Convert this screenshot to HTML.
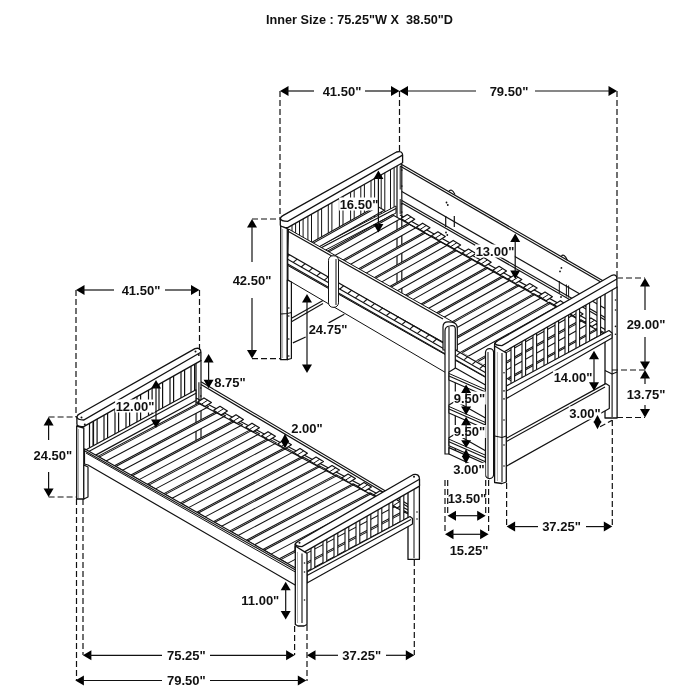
<!DOCTYPE html>
<html><head><meta charset="utf-8"><style>
html,body{margin:0;padding:0;background:#fff;width:700px;height:700px;overflow:hidden}
svg{display:block;filter:grayscale(100%)}
text{font-family:"Liberation Sans",sans-serif;font-weight:bold;fill:#111}
</style></head><body>
<svg width="700" height="700" viewBox="0 0 700 700">
<rect width="700" height="700" fill="#fff"/>
<line x1="201.0" y1="381.8" x2="410.0" y2="505.5" stroke="#111" stroke-width="1.2"/>
<line x1="201.0" y1="384.4" x2="410.0" y2="508.1" stroke="#111" stroke-width="1.2"/>
<line x1="89.5" y1="423.3" x2="89.5" y2="447.8" stroke="#111" stroke-width="1.2"/>
<line x1="93.1" y1="421.3" x2="93.1" y2="445.8" stroke="#111" stroke-width="1.2"/>
<line x1="93.5" y1="421.1" x2="93.5" y2="445.6" stroke="#111" stroke-width="1.2"/>
<line x1="97.1" y1="419.1" x2="97.1" y2="443.7" stroke="#111" stroke-width="1.2"/>
<line x1="104.0" y1="415.2" x2="104.0" y2="439.9" stroke="#111" stroke-width="1.2"/>
<line x1="107.6" y1="413.1" x2="107.6" y2="437.9" stroke="#111" stroke-width="1.2"/>
<line x1="115.0" y1="409.0" x2="115.0" y2="433.9" stroke="#111" stroke-width="1.2"/>
<line x1="118.6" y1="406.9" x2="118.6" y2="431.9" stroke="#111" stroke-width="1.2"/>
<line x1="126.0" y1="402.8" x2="126.0" y2="427.9" stroke="#111" stroke-width="1.2"/>
<line x1="129.6" y1="400.8" x2="129.6" y2="426.0" stroke="#111" stroke-width="1.2"/>
<line x1="137.0" y1="396.6" x2="137.0" y2="421.9" stroke="#111" stroke-width="1.2"/>
<line x1="140.6" y1="394.6" x2="140.6" y2="420.0" stroke="#111" stroke-width="1.2"/>
<line x1="148.5" y1="390.1" x2="148.5" y2="415.7" stroke="#111" stroke-width="1.2"/>
<line x1="152.1" y1="388.1" x2="152.1" y2="413.7" stroke="#111" stroke-width="1.2"/>
<line x1="159.0" y1="384.2" x2="159.0" y2="409.9" stroke="#111" stroke-width="1.2"/>
<line x1="162.6" y1="382.2" x2="162.6" y2="408.0" stroke="#111" stroke-width="1.2"/>
<line x1="170.0" y1="378.0" x2="170.0" y2="404.0" stroke="#111" stroke-width="1.2"/>
<line x1="173.6" y1="376.0" x2="173.6" y2="402.0" stroke="#111" stroke-width="1.2"/>
<line x1="181.0" y1="371.8" x2="181.0" y2="398.0" stroke="#111" stroke-width="1.2"/>
<line x1="184.6" y1="369.8" x2="184.6" y2="396.0" stroke="#111" stroke-width="1.2"/>
<line x1="191.0" y1="366.2" x2="191.0" y2="392.5" stroke="#111" stroke-width="1.2"/>
<line x1="194.6" y1="364.1" x2="194.6" y2="390.6" stroke="#111" stroke-width="1.2"/>
<line x1="196.0" y1="360.0" x2="196.0" y2="440.0" stroke="#111" stroke-width="1.2"/>
<line x1="201.0" y1="360.0" x2="201.0" y2="440.0" stroke="#111" stroke-width="1.2"/>
<path d="M76.9,416.9 Q77.4,414.9 79.9,413.7 L195.0,348.6 Q200.9,347.1 200.9,352.3 L200.9,360.6 L83.7,426.6 Q76.9,427.1 76.9,424.1 Z" fill="#fff" stroke="#111" stroke-width="1.3" stroke-linejoin="round"/>
<path d="M76.9,417.0 Q77.4,420.0 83.7,420.0 L200.9,352.3" fill="none" stroke="#111" stroke-width="1.3"/>
<circle cx="81.5" cy="417.5" r="1.0" fill="#111"/>
<circle cx="195.5" cy="351.5" r="1.0" fill="#111"/>
<circle cx="84.8" cy="424.5" r="1.0" fill="#111"/>
<circle cx="198.8" cy="355.0" r="1.0" fill="#111"/>
<polygon points="97.9,456.4 200.1,402.2 208.5,406.7 106.1,461.0" fill="#fff" stroke="#111" stroke-width="1.05" stroke-linejoin="round"/>
<line x1="99.3" y1="457.1" x2="201.5" y2="402.9" stroke="#111" stroke-width="1.05"/>
<polygon points="114.4,465.7 217.1,411.2 225.5,415.7 122.6,470.3" fill="#fff" stroke="#111" stroke-width="1.05" stroke-linejoin="round"/>
<line x1="115.8" y1="466.5" x2="218.5" y2="412.0" stroke="#111" stroke-width="1.05"/>
<polygon points="130.9,475.0 234.1,420.3 242.5,424.8 139.1,479.6" fill="#fff" stroke="#111" stroke-width="1.05" stroke-linejoin="round"/>
<line x1="132.3" y1="475.8" x2="235.5" y2="421.0" stroke="#111" stroke-width="1.05"/>
<polygon points="147.4,484.3 251.1,429.4 259.5,433.8 155.6,488.9" fill="#fff" stroke="#111" stroke-width="1.05" stroke-linejoin="round"/>
<line x1="148.8" y1="485.1" x2="252.5" y2="430.1" stroke="#111" stroke-width="1.05"/>
<polygon points="163.9,493.6 268.1,438.4 276.5,442.9 172.1,498.2" fill="#fff" stroke="#111" stroke-width="1.05" stroke-linejoin="round"/>
<line x1="165.3" y1="494.4" x2="269.5" y2="439.2" stroke="#111" stroke-width="1.05"/>
<polygon points="180.4,502.9 285.1,447.5 293.5,451.9 188.6,507.6" fill="#fff" stroke="#111" stroke-width="1.05" stroke-linejoin="round"/>
<line x1="181.8" y1="503.7" x2="286.5" y2="448.2" stroke="#111" stroke-width="1.05"/>
<polygon points="196.9,512.3 302.1,456.5 310.5,461.0 205.1,516.9" fill="#fff" stroke="#111" stroke-width="1.05" stroke-linejoin="round"/>
<line x1="198.3" y1="513.0" x2="303.5" y2="457.3" stroke="#111" stroke-width="1.05"/>
<polygon points="213.4,521.6 319.1,465.6 327.5,470.0 221.6,526.2" fill="#fff" stroke="#111" stroke-width="1.05" stroke-linejoin="round"/>
<line x1="214.8" y1="522.3" x2="320.5" y2="466.3" stroke="#111" stroke-width="1.05"/>
<polygon points="229.9,530.9 336.1,474.6 344.5,479.1 238.1,535.5" fill="#fff" stroke="#111" stroke-width="1.05" stroke-linejoin="round"/>
<line x1="231.3" y1="531.7" x2="337.5" y2="475.4" stroke="#111" stroke-width="1.05"/>
<polygon points="246.4,540.2 353.1,483.7 361.5,488.2 254.6,544.8" fill="#fff" stroke="#111" stroke-width="1.05" stroke-linejoin="round"/>
<line x1="247.8" y1="541.0" x2="354.5" y2="484.4" stroke="#111" stroke-width="1.05"/>
<polygon points="262.9,549.5 370.1,492.7 378.5,497.2 271.1,554.1" fill="#fff" stroke="#111" stroke-width="1.05" stroke-linejoin="round"/>
<line x1="264.3" y1="550.3" x2="371.5" y2="493.5" stroke="#111" stroke-width="1.05"/>
<polygon points="279.4,558.8 387.0,501.8 395.5,506.3 287.6,563.4" fill="#fff" stroke="#111" stroke-width="1.05" stroke-linejoin="round"/>
<line x1="280.8" y1="559.6" x2="388.5" y2="502.5" stroke="#111" stroke-width="1.05"/>
<polygon points="295.9,568.1 404.0,510.8 412.5,515.3 304.1,572.8" fill="#fff" stroke="#111" stroke-width="1.05" stroke-linejoin="round"/>
<line x1="297.3" y1="568.9" x2="405.5" y2="511.6" stroke="#111" stroke-width="1.05"/>
<polygon points="86.0,449.7 196.0,389.8 196.0,400.5 86.0,460.4" fill="#fff" stroke="#111" stroke-width="1.2" stroke-linejoin="round"/>
<line x1="86.0" y1="453.1" x2="196.0" y2="393.2" stroke="#111" stroke-width="1.1"/>
<line x1="196.0" y1="398.0" x2="410.0" y2="511.0" stroke="#111" stroke-width="1.2"/>
<line x1="196.0" y1="402.0" x2="410.0" y2="515.0" stroke="#111" stroke-width="1.2"/>
<polygon points="197.7,401.9 204.0,397.9 211.4,402.5 205.1,406.5" fill="#fff" stroke="#111" stroke-width="1.2" stroke-linejoin="round"/>
<line x1="201.4" y1="404.2" x2="207.7" y2="400.2" stroke="#111" stroke-width="1.0"/>
<polygon points="213.7,410.3 220.0,406.3 227.4,410.9 221.1,414.9" fill="#fff" stroke="#111" stroke-width="1.2" stroke-linejoin="round"/>
<line x1="217.4" y1="412.6" x2="223.7" y2="408.6" stroke="#111" stroke-width="1.0"/>
<polygon points="229.7,418.8 236.0,414.8 243.4,419.4 237.1,423.4" fill="#fff" stroke="#111" stroke-width="1.2" stroke-linejoin="round"/>
<line x1="233.4" y1="421.1" x2="239.7" y2="417.1" stroke="#111" stroke-width="1.0"/>
<polygon points="245.7,427.2 252.0,423.2 259.4,427.8 253.1,431.8" fill="#fff" stroke="#111" stroke-width="1.2" stroke-linejoin="round"/>
<line x1="249.4" y1="429.5" x2="255.7" y2="425.5" stroke="#111" stroke-width="1.0"/>
<polygon points="261.7,435.7 268.0,431.7 275.4,436.3 269.1,440.3" fill="#fff" stroke="#111" stroke-width="1.2" stroke-linejoin="round"/>
<line x1="265.4" y1="438.0" x2="271.7" y2="434.0" stroke="#111" stroke-width="1.0"/>
<polygon points="277.7,444.1 284.0,440.1 291.4,444.7 285.1,448.7" fill="#fff" stroke="#111" stroke-width="1.2" stroke-linejoin="round"/>
<line x1="281.4" y1="446.4" x2="287.7" y2="442.4" stroke="#111" stroke-width="1.0"/>
<polygon points="293.7,452.6 300.0,448.6 307.4,453.2 301.1,457.2" fill="#fff" stroke="#111" stroke-width="1.2" stroke-linejoin="round"/>
<line x1="297.4" y1="454.9" x2="303.7" y2="450.9" stroke="#111" stroke-width="1.0"/>
<polygon points="309.7,461.0 316.0,457.0 323.4,461.6 317.1,465.6" fill="#fff" stroke="#111" stroke-width="1.2" stroke-linejoin="round"/>
<line x1="313.4" y1="463.3" x2="319.7" y2="459.3" stroke="#111" stroke-width="1.0"/>
<polygon points="325.7,469.5 332.0,465.5 339.4,470.1 333.1,474.1" fill="#fff" stroke="#111" stroke-width="1.2" stroke-linejoin="round"/>
<line x1="329.4" y1="471.8" x2="335.7" y2="467.8" stroke="#111" stroke-width="1.0"/>
<polygon points="341.7,477.9 348.0,473.9 355.4,478.5 349.1,482.5" fill="#fff" stroke="#111" stroke-width="1.2" stroke-linejoin="round"/>
<line x1="345.4" y1="480.2" x2="351.7" y2="476.2" stroke="#111" stroke-width="1.0"/>
<polygon points="357.7,486.4 364.0,482.4 371.4,487.0 365.1,491.0" fill="#fff" stroke="#111" stroke-width="1.2" stroke-linejoin="round"/>
<line x1="361.4" y1="488.7" x2="367.7" y2="484.7" stroke="#111" stroke-width="1.0"/>
<polygon points="373.7,494.8 380.0,490.8 387.4,495.4 381.1,499.4" fill="#fff" stroke="#111" stroke-width="1.2" stroke-linejoin="round"/>
<line x1="377.4" y1="497.1" x2="383.7" y2="493.1" stroke="#111" stroke-width="1.0"/>
<polygon points="389.7,503.3 396.0,499.3 403.4,503.9 397.1,507.9" fill="#fff" stroke="#111" stroke-width="1.2" stroke-linejoin="round"/>
<line x1="393.4" y1="505.6" x2="399.7" y2="501.6" stroke="#111" stroke-width="1.0"/>
<line x1="198.9" y1="382.3" x2="198.9" y2="401.5" stroke="#111" stroke-width="1.1"/>
<circle cx="200.8" cy="388.0" r="0.8" fill="#111"/>
<circle cx="200.8" cy="396.0" r="0.8" fill="#111"/>
<polygon points="84.5,448.8 296.0,568.2 296.0,585.5 88.0,465.0 84.5,464.0" fill="#fff" stroke="#111" stroke-width="1.2" stroke-linejoin="round"/>
<line x1="84.5" y1="450.8" x2="296.0" y2="570.2" stroke="#111" stroke-width="1.1"/>
<line x1="86.0" y1="453.0" x2="296.0" y2="572.4" stroke="#111" stroke-width="1.0"/>
<polygon points="76.7,426.0 76.7,499.0 83.8,499.0 83.8,428.0" fill="#fff" stroke="#111" stroke-width="1.3" stroke-linejoin="round"/>
<polygon points="83.8,465.0 88.0,467.0 88.0,497.0 83.8,499.0" fill="#fff" stroke="#111" stroke-width="1.2" stroke-linejoin="round"/>
<line x1="78.5" y1="429.0" x2="78.5" y2="498.0" stroke="#888" stroke-width="0.7"/>
<polygon points="408.0,484.0 408.0,559.4 419.4,559.4 419.4,484.0" fill="#fff" stroke="#111" stroke-width="1.3" stroke-linejoin="round"/>
<line x1="414.0" y1="487.0" x2="414.0" y2="558.0" stroke="#111" stroke-width="1.0"/>
<circle cx="417.0" cy="512.0" r="0.8" fill="#111"/>
<circle cx="417.0" cy="519.0" r="0.8" fill="#111"/>
<rect x="311" y="546.2" width="3.8" height="23.7" fill="#fff" stroke="#111" stroke-width="1.1"/>
<rect x="323" y="539.3" width="3.8" height="24.1" fill="#fff" stroke="#111" stroke-width="1.1"/>
<rect x="334" y="533.0" width="3.8" height="24.5" fill="#fff" stroke="#111" stroke-width="1.1"/>
<rect x="345" y="526.7" width="3.8" height="24.8" fill="#fff" stroke="#111" stroke-width="1.1"/>
<rect x="356" y="520.4" width="3.8" height="25.2" fill="#fff" stroke="#111" stroke-width="1.1"/>
<rect x="367" y="514.1" width="3.8" height="25.6" fill="#fff" stroke="#111" stroke-width="1.1"/>
<rect x="378" y="507.8" width="3.8" height="26.0" fill="#fff" stroke="#111" stroke-width="1.1"/>
<rect x="389" y="501.5" width="3.8" height="26.3" fill="#fff" stroke="#111" stroke-width="1.1"/>
<rect x="400" y="495.2" width="3.8" height="26.7" fill="#fff" stroke="#111" stroke-width="1.1"/>
<polygon points="307.0,572.0 410.0,516.5 412.5,518.5 412.5,524.0 410.0,525.5 307.0,583.0" fill="#fff" stroke="#111" stroke-width="1.2" stroke-linejoin="round"/>
<line x1="307.0" y1="575.5" x2="411.0" y2="519.5" stroke="#111" stroke-width="1.1"/>
<path d="M295.1,544.5 Q295.6,542.5 298.1,541.3 L413.0,474.7 Q419.5,473.2 419.5,479.3 L419.5,486.1 L302.0,553.4 Q295.1,553.9 295.1,550.9 Z" fill="#fff" stroke="#111" stroke-width="1.3" stroke-linejoin="round"/>
<path d="M295.1,543.6 Q295.6,546.6 302.0,546.6 L419.5,479.3" fill="none" stroke="#111" stroke-width="1.3"/>
<circle cx="299.5" cy="542.8" r="1.0" fill="#111"/>
<circle cx="414.0" cy="476.8" r="1.0" fill="#111"/>
<polygon points="295.3,546.0 295.3,624.5 298.0,626.0 304.0,626.0 307.0,624.5 307.0,553.4" fill="#fff" stroke="#111" stroke-width="1.3" stroke-linejoin="round"/>
<line x1="302.0" y1="553.4" x2="302.0" y2="623.0" stroke="#111" stroke-width="1.1"/>
<line x1="297.5" y1="552.0" x2="297.5" y2="623.0" stroke="#888" stroke-width="0.7"/>
<circle cx="304.5" cy="563.0" r="0.8" fill="#111"/>
<circle cx="304.5" cy="572.0" r="0.8" fill="#111"/>
<circle cx="304.5" cy="600.0" r="0.8" fill="#111"/>
<line x1="400.0" y1="163.6" x2="612.0" y2="285.9" stroke="#111" stroke-width="1.2"/>
<line x1="400.0" y1="166.1" x2="612.0" y2="288.4" stroke="#111" stroke-width="1.2"/>
<path d="M448.5,191.8 Q451.5,187.5 455,194.5" fill="none" stroke="#111" stroke-width="1.1"/>
<path d="M561,256.5 Q564,252.5 567.5,260.5" fill="none" stroke="#111" stroke-width="1.1"/>
<circle cx="446.5" cy="202.5" r="0.9" fill="#111"/>
<circle cx="447.8" cy="205.0" r="0.9" fill="#111"/>
<circle cx="561.4" cy="267.9" r="0.9" fill="#111"/>
<circle cx="560.0" cy="271.4" r="0.9" fill="#111"/>
<circle cx="561.0" cy="297.0" r="0.9" fill="#111"/>
<circle cx="560.7" cy="301.4" r="0.9" fill="#111"/>
<circle cx="446.0" cy="232.5" r="0.9" fill="#111"/>
<circle cx="447.3" cy="235.0" r="0.9" fill="#111"/>
<line x1="559.3" y1="281.0" x2="559.3" y2="293.0" stroke="#111" stroke-width="1.0"/>
<line x1="566.4" y1="284.5" x2="566.4" y2="296.5" stroke="#111" stroke-width="1.0"/>
<line x1="568.6" y1="285.5" x2="568.6" y2="297.5" stroke="#111" stroke-width="1.0"/>
<line x1="401.8" y1="191.4" x2="606.0" y2="309.0" stroke="#111" stroke-width="1.2"/>
<line x1="401.8" y1="200.5" x2="606.0" y2="318.0" stroke="#111" stroke-width="1.2"/>
<line x1="401.8" y1="203.0" x2="606.0" y2="320.5" stroke="#111" stroke-width="1.2"/>
<line x1="400.2" y1="166.5" x2="400.2" y2="189.5" stroke="#111" stroke-width="1.0"/>
<line x1="400.2" y1="199.0" x2="400.2" y2="214.0" stroke="#111" stroke-width="1.0"/>
<circle cx="401.8" cy="170.0" r="0.85" fill="#111"/>
<circle cx="401.8" cy="186.0" r="0.85" fill="#111"/>
<circle cx="401.8" cy="204.0" r="0.85" fill="#111"/>
<circle cx="401.8" cy="212.0" r="0.85" fill="#111"/>
<line x1="445.7" y1="216.0" x2="445.7" y2="227.0" stroke="#111" stroke-width="1.2"/>
<line x1="454.3" y1="216.0" x2="454.3" y2="227.0" stroke="#111" stroke-width="1.2"/>
<line x1="292.0" y1="225.2" x2="292.0" y2="231.0" stroke="#111" stroke-width="1.0"/>
<line x1="295.6" y1="223.1" x2="295.6" y2="233.0" stroke="#111" stroke-width="1.0"/>
<line x1="299.5" y1="220.9" x2="299.5" y2="235.2" stroke="#111" stroke-width="1.0"/>
<line x1="303.1" y1="218.9" x2="303.1" y2="237.2" stroke="#111" stroke-width="1.0"/>
<line x1="307.9" y1="216.2" x2="307.9" y2="240.0" stroke="#111" stroke-width="1.0"/>
<line x1="311.5" y1="214.2" x2="311.5" y2="242.0" stroke="#111" stroke-width="1.0"/>
<line x1="318.0" y1="210.5" x2="318.0" y2="245.7" stroke="#111" stroke-width="1.0"/>
<line x1="321.6" y1="208.5" x2="321.6" y2="245.0" stroke="#111" stroke-width="1.0"/>
<line x1="328.3" y1="204.7" x2="328.3" y2="241.5" stroke="#111" stroke-width="1.0"/>
<line x1="331.9" y1="202.7" x2="331.9" y2="239.6" stroke="#111" stroke-width="1.0"/>
<line x1="339.4" y1="198.4" x2="339.4" y2="235.7" stroke="#111" stroke-width="1.0"/>
<line x1="343.0" y1="196.4" x2="343.0" y2="233.8" stroke="#111" stroke-width="1.0"/>
<line x1="350.6" y1="192.1" x2="350.6" y2="229.9" stroke="#111" stroke-width="1.0"/>
<line x1="354.2" y1="190.1" x2="354.2" y2="228.0" stroke="#111" stroke-width="1.0"/>
<line x1="360.8" y1="186.4" x2="360.8" y2="224.6" stroke="#111" stroke-width="1.0"/>
<line x1="364.4" y1="184.3" x2="364.4" y2="222.7" stroke="#111" stroke-width="1.0"/>
<line x1="371.0" y1="180.6" x2="371.0" y2="219.2" stroke="#111" stroke-width="1.0"/>
<line x1="374.6" y1="178.6" x2="374.6" y2="217.4" stroke="#111" stroke-width="1.0"/>
<line x1="381.2" y1="174.9" x2="381.2" y2="213.9" stroke="#111" stroke-width="1.0"/>
<line x1="384.8" y1="172.8" x2="384.8" y2="212.0" stroke="#111" stroke-width="1.0"/>
<line x1="390.5" y1="169.6" x2="390.5" y2="209.1" stroke="#111" stroke-width="1.0"/>
<line x1="394.1" y1="167.6" x2="394.1" y2="207.2" stroke="#111" stroke-width="1.0"/>
<line x1="397.0" y1="165.0" x2="397.0" y2="300.0" stroke="#111" stroke-width="1.2"/>
<line x1="401.8" y1="165.0" x2="401.8" y2="300.0" stroke="#111" stroke-width="1.2"/>
<polygon points="316.0,248.0 396.0,206.0 396.0,213.0 316.0,255.0" fill="#fff" stroke="#111" stroke-width="1.0" stroke-linejoin="round"/>
<line x1="316.0" y1="250.5" x2="396.0" y2="208.5" stroke="#111" stroke-width="1.2"/>
<path d="M280.3,218.6 Q280.8,216.6 283.3,215.4 L396.5,152.0 Q402.6,150.5 402.6,155.1 L402.6,162.8 L287.7,227.6 Q280.3,228.1 280.3,225.1 Z" fill="#fff" stroke="#111" stroke-width="1.3" stroke-linejoin="round"/>
<path d="M280.3,218.4 Q280.8,221.4 287.7,221.4 L402.6,155.1" fill="none" stroke="#111" stroke-width="1.3"/>
<clipPath id="cu"><polygon points="280,150 620,150 620,331 610,331 506.3,387 494,387 494,370.5 287.7,253.7 280,253"/></clipPath><g clip-path="url(#cu)">
<polygon points="289.6,254.8 376.7,206.0 384.3,210.3 297.2,259.1" fill="#fff" stroke="#111" stroke-width="1.05" stroke-linejoin="round"/>
<line x1="291.0" y1="255.6" x2="378.1" y2="206.8" stroke="#111" stroke-width="1.05"/>
<polygon points="305.2,263.6 392.4,214.8 400.0,219.0 312.7,267.9" fill="#fff" stroke="#111" stroke-width="1.05" stroke-linejoin="round"/>
<line x1="306.5" y1="264.4" x2="393.8" y2="215.5" stroke="#111" stroke-width="1.05"/>
<polygon points="320.7,272.5 408.1,223.5 415.8,227.8 328.3,276.8" fill="#fff" stroke="#111" stroke-width="1.05" stroke-linejoin="round"/>
<line x1="322.1" y1="273.2" x2="409.5" y2="224.3" stroke="#111" stroke-width="1.05"/>
<polygon points="336.3,281.3 423.9,232.3 431.5,236.5 343.8,285.6" fill="#fff" stroke="#111" stroke-width="1.05" stroke-linejoin="round"/>
<line x1="337.6" y1="282.1" x2="425.2" y2="233.0" stroke="#111" stroke-width="1.05"/>
<polygon points="351.8,290.2 439.6,241.0 447.2,245.3 359.4,294.4" fill="#fff" stroke="#111" stroke-width="1.05" stroke-linejoin="round"/>
<line x1="353.2" y1="290.9" x2="440.9" y2="241.8" stroke="#111" stroke-width="1.05"/>
<polygon points="367.4,299.0 455.3,249.8 462.9,254.0 374.9,303.3" fill="#fff" stroke="#111" stroke-width="1.05" stroke-linejoin="round"/>
<line x1="368.7" y1="299.8" x2="456.6" y2="250.5" stroke="#111" stroke-width="1.05"/>
<polygon points="382.9,307.8 471.0,258.5 478.6,262.8 390.5,312.1" fill="#fff" stroke="#111" stroke-width="1.05" stroke-linejoin="round"/>
<line x1="384.3" y1="308.6" x2="472.3" y2="259.3" stroke="#111" stroke-width="1.05"/>
<polygon points="398.5,316.7 486.7,267.3 494.3,271.5 406.0,321.0" fill="#fff" stroke="#111" stroke-width="1.05" stroke-linejoin="round"/>
<line x1="399.8" y1="317.4" x2="488.0" y2="268.0" stroke="#111" stroke-width="1.05"/>
<polygon points="414.0,325.5 502.4,276.0 510.0,280.3 421.6,329.8" fill="#fff" stroke="#111" stroke-width="1.05" stroke-linejoin="round"/>
<line x1="415.4" y1="326.3" x2="503.7" y2="276.8" stroke="#111" stroke-width="1.05"/>
<polygon points="429.6,334.4 518.1,284.8 525.7,289.0 437.1,338.7" fill="#fff" stroke="#111" stroke-width="1.05" stroke-linejoin="round"/>
<line x1="430.9" y1="335.1" x2="519.4" y2="285.5" stroke="#111" stroke-width="1.05"/>
<polygon points="445.1,343.2 533.8,293.6 541.4,297.8 452.7,347.5" fill="#fff" stroke="#111" stroke-width="1.05" stroke-linejoin="round"/>
<line x1="446.5" y1="344.0" x2="535.2" y2="294.3" stroke="#111" stroke-width="1.05"/>
<polygon points="460.7,352.1 549.5,302.3 557.1,306.5 468.2,356.3" fill="#fff" stroke="#111" stroke-width="1.05" stroke-linejoin="round"/>
<line x1="462.0" y1="352.8" x2="550.9" y2="303.1" stroke="#111" stroke-width="1.05"/>
<polygon points="476.2,360.9 565.2,311.1 572.8,315.3 483.8,365.2" fill="#fff" stroke="#111" stroke-width="1.05" stroke-linejoin="round"/>
<line x1="477.6" y1="361.7" x2="566.6" y2="311.8" stroke="#111" stroke-width="1.05"/>
<polygon points="491.8,369.7 580.9,319.8 588.5,324.0 499.3,374.0" fill="#fff" stroke="#111" stroke-width="1.05" stroke-linejoin="round"/>
<line x1="493.1" y1="370.5" x2="582.3" y2="320.6" stroke="#111" stroke-width="1.05"/>
<polygon points="507.3,378.6 596.7,328.6 604.3,332.8 514.9,382.9" fill="#fff" stroke="#111" stroke-width="1.05" stroke-linejoin="round"/>
<line x1="508.7" y1="379.3" x2="598.0" y2="329.3" stroke="#111" stroke-width="1.05"/>
<polygon points="522.9,387.4 612.4,337.3 620.0,341.6 530.4,391.7" fill="#fff" stroke="#111" stroke-width="1.05" stroke-linejoin="round"/>
<line x1="524.2" y1="388.2" x2="613.7" y2="338.1" stroke="#111" stroke-width="1.05"/>
<polygon points="538.4,396.3 628.1,346.1 635.7,350.3 546.0,400.5" fill="#fff" stroke="#111" stroke-width="1.05" stroke-linejoin="round"/>
<line x1="539.8" y1="397.0" x2="629.4" y2="346.8" stroke="#111" stroke-width="1.05"/>
<polygon points="554.0,405.1 643.8,354.8 651.4,359.1 561.5,409.4" fill="#fff" stroke="#111" stroke-width="1.05" stroke-linejoin="round"/>
<line x1="555.3" y1="405.9" x2="645.1" y2="355.6" stroke="#111" stroke-width="1.05"/>
<polygon points="569.5,413.9 659.5,363.6 667.1,367.8 577.1,418.2" fill="#fff" stroke="#111" stroke-width="1.05" stroke-linejoin="round"/>
<line x1="570.9" y1="414.7" x2="660.8" y2="364.3" stroke="#111" stroke-width="1.05"/>
</g>
<line x1="400.0" y1="215.0" x2="606.0" y2="330.0" stroke="#111" stroke-width="1.2"/>
<line x1="400.0" y1="219.0" x2="606.0" y2="335.0" stroke="#111" stroke-width="1.2"/>
<polygon points="401.0,218.6 407.3,214.6 414.7,219.2 408.4,223.2" fill="#fff" stroke="#111" stroke-width="1.2" stroke-linejoin="round"/>
<line x1="404.7" y1="220.9" x2="411.0" y2="216.9" stroke="#111" stroke-width="1.0"/>
<polygon points="416.3,227.2 422.6,223.2 430.0,227.8 423.7,231.8" fill="#fff" stroke="#111" stroke-width="1.2" stroke-linejoin="round"/>
<line x1="420.0" y1="229.5" x2="426.3" y2="225.5" stroke="#111" stroke-width="1.0"/>
<polygon points="431.6,235.8 437.9,231.8 445.3,236.4 439.0,240.4" fill="#fff" stroke="#111" stroke-width="1.2" stroke-linejoin="round"/>
<line x1="435.3" y1="238.1" x2="441.6" y2="234.1" stroke="#111" stroke-width="1.0"/>
<polygon points="446.9,244.4 453.2,240.4 460.6,245.0 454.3,249.0" fill="#fff" stroke="#111" stroke-width="1.2" stroke-linejoin="round"/>
<line x1="450.6" y1="246.7" x2="456.9" y2="242.7" stroke="#111" stroke-width="1.0"/>
<polygon points="462.2,253.0 468.5,249.0 475.9,253.6 469.6,257.6" fill="#fff" stroke="#111" stroke-width="1.2" stroke-linejoin="round"/>
<line x1="465.9" y1="255.3" x2="472.2" y2="251.3" stroke="#111" stroke-width="1.0"/>
<polygon points="477.5,261.6 483.8,257.6 491.2,262.2 484.9,266.2" fill="#fff" stroke="#111" stroke-width="1.2" stroke-linejoin="round"/>
<line x1="481.2" y1="263.9" x2="487.5" y2="259.9" stroke="#111" stroke-width="1.0"/>
<polygon points="492.8,270.3 499.1,266.3 506.5,270.9 500.2,274.9" fill="#fff" stroke="#111" stroke-width="1.2" stroke-linejoin="round"/>
<line x1="496.5" y1="272.6" x2="502.8" y2="268.6" stroke="#111" stroke-width="1.0"/>
<polygon points="508.1,278.9 514.4,274.9 521.8,279.5 515.5,283.5" fill="#fff" stroke="#111" stroke-width="1.2" stroke-linejoin="round"/>
<line x1="511.8" y1="281.2" x2="518.1" y2="277.2" stroke="#111" stroke-width="1.0"/>
<polygon points="523.4,287.5 529.7,283.5 537.1,288.1 530.8,292.1" fill="#fff" stroke="#111" stroke-width="1.2" stroke-linejoin="round"/>
<line x1="527.1" y1="289.8" x2="533.4" y2="285.8" stroke="#111" stroke-width="1.0"/>
<polygon points="538.7,296.1 545.0,292.1 552.4,296.7 546.1,300.7" fill="#fff" stroke="#111" stroke-width="1.2" stroke-linejoin="round"/>
<line x1="542.4" y1="298.4" x2="548.7" y2="294.4" stroke="#111" stroke-width="1.0"/>
<polygon points="554.0,304.7 560.3,300.7 567.7,305.3 561.4,309.3" fill="#fff" stroke="#111" stroke-width="1.2" stroke-linejoin="round"/>
<line x1="557.7" y1="307.0" x2="564.0" y2="303.0" stroke="#111" stroke-width="1.0"/>
<polygon points="569.3,313.3 575.6,309.3 583.0,313.9 576.7,317.9" fill="#fff" stroke="#111" stroke-width="1.2" stroke-linejoin="round"/>
<line x1="573.0" y1="315.6" x2="579.3" y2="311.6" stroke="#111" stroke-width="1.0"/>
<polygon points="584.6,321.9 590.9,317.9 598.3,322.5 592.0,326.5" fill="#fff" stroke="#111" stroke-width="1.2" stroke-linejoin="round"/>
<line x1="588.3" y1="324.2" x2="594.6" y2="320.2" stroke="#111" stroke-width="1.0"/>
<polygon points="288.5,229.0 454.0,322.5 443.0,342.0 288.0,255.0" fill="#fff" stroke="#111" stroke-width="1.0" stroke-linejoin="round"/>
<line x1="288.5" y1="231.5" x2="443.0" y2="319.0" stroke="#111" stroke-width="1.2"/>
<polygon points="287.7,253.7 494.0,372.0 494.0,383.0 287.7,265.6" fill="#fff" stroke="#111" stroke-width="1.2" stroke-linejoin="round"/>
<line x1="287.7" y1="259.3" x2="494.0" y2="377.4" stroke="#111" stroke-width="1.1"/>
<line x1="287.7" y1="264.0" x2="494.0" y2="381.8" stroke="#111" stroke-width="1.1"/>
<line x1="289.6" y1="254.8" x2="285.7" y2="258.2" stroke="#111" stroke-width="1.1"/>
<line x1="297.2" y1="259.1" x2="293.2" y2="262.4" stroke="#111" stroke-width="1.1"/>
<line x1="305.2" y1="263.6" x2="301.2" y2="267.0" stroke="#111" stroke-width="1.1"/>
<line x1="312.7" y1="267.9" x2="308.8" y2="271.3" stroke="#111" stroke-width="1.1"/>
<line x1="320.7" y1="272.5" x2="316.8" y2="275.8" stroke="#111" stroke-width="1.1"/>
<line x1="328.3" y1="276.8" x2="324.3" y2="280.1" stroke="#111" stroke-width="1.1"/>
<line x1="336.3" y1="281.3" x2="332.3" y2="284.7" stroke="#111" stroke-width="1.1"/>
<line x1="343.8" y1="285.6" x2="339.9" y2="289.0" stroke="#111" stroke-width="1.1"/>
<line x1="351.8" y1="290.2" x2="347.9" y2="293.5" stroke="#111" stroke-width="1.1"/>
<line x1="359.4" y1="294.4" x2="355.4" y2="297.8" stroke="#111" stroke-width="1.1"/>
<line x1="367.4" y1="299.0" x2="363.4" y2="302.4" stroke="#111" stroke-width="1.1"/>
<line x1="374.9" y1="303.3" x2="371.0" y2="306.6" stroke="#111" stroke-width="1.1"/>
<line x1="382.9" y1="307.8" x2="379.0" y2="311.2" stroke="#111" stroke-width="1.1"/>
<line x1="390.5" y1="312.1" x2="386.5" y2="315.5" stroke="#111" stroke-width="1.1"/>
<line x1="398.5" y1="316.7" x2="394.5" y2="320.0" stroke="#111" stroke-width="1.1"/>
<line x1="406.0" y1="321.0" x2="402.1" y2="324.3" stroke="#111" stroke-width="1.1"/>
<line x1="414.0" y1="325.5" x2="410.1" y2="328.9" stroke="#111" stroke-width="1.1"/>
<line x1="421.6" y1="329.8" x2="417.6" y2="333.2" stroke="#111" stroke-width="1.1"/>
<line x1="429.6" y1="334.4" x2="425.6" y2="337.7" stroke="#111" stroke-width="1.1"/>
<line x1="437.1" y1="338.7" x2="433.2" y2="342.0" stroke="#111" stroke-width="1.1"/>
<line x1="460.7" y1="352.1" x2="456.7" y2="355.4" stroke="#111" stroke-width="1.1"/>
<line x1="468.2" y1="356.3" x2="464.3" y2="359.7" stroke="#111" stroke-width="1.1"/>
<line x1="476.2" y1="360.9" x2="472.3" y2="364.3" stroke="#111" stroke-width="1.1"/>
<line x1="483.8" y1="365.2" x2="479.8" y2="368.5" stroke="#111" stroke-width="1.1"/>
<polygon points="288.0,265.6 494.0,382.2 494.0,401.0 288.0,280.0" fill="#fff" stroke="#111" stroke-width="1.0" stroke-linejoin="round"/>
<rect x="328.5" y="255.8" width="10" height="51.5" rx="4.5" fill="#fff" stroke="#111" stroke-width="1"/>
<line x1="336.0" y1="259.0" x2="336.0" y2="305.0" stroke="#111" stroke-width="1.0"/>
<line x1="291.0" y1="318.6" x2="323.0" y2="300.5" stroke="#111" stroke-width="1.2"/>
<line x1="291.0" y1="322.0" x2="323.0" y2="303.5" stroke="#111" stroke-width="1.2"/>
<line x1="328.6" y1="322.9" x2="344.3" y2="314.3" stroke="#111" stroke-width="1.2"/>
<line x1="292.9" y1="342.9" x2="305.7" y2="337.0" stroke="#111" stroke-width="1.2"/>
<polygon points="280.7,226.0 280.7,359.7 287.3,359.7 287.3,228.6" fill="#fff" stroke="#111" stroke-width="1.3" stroke-linejoin="round"/>
<polygon points="287.3,280.0 291.4,282.0 291.4,358.5 287.3,359.7" fill="#fff" stroke="#111" stroke-width="1.2" stroke-linejoin="round"/>
<line x1="282.6" y1="229.0" x2="282.6" y2="358.0" stroke="#888" stroke-width="0.7"/>
<polyline points="280.7,314.0 287.3,313.5 291.4,312.5" fill="none" stroke="#111" stroke-width="1.1" stroke-linejoin="round"/>
<circle cx="288.8" cy="308.0" r="0.8" fill="#111"/>
<circle cx="288.8" cy="316.0" r="0.8" fill="#111"/>
<circle cx="288.8" cy="339.0" r="0.8" fill="#111"/>
<circle cx="288.8" cy="356.0" r="0.8" fill="#111"/>
<path d="M443,350 L443,327 Q443,321.5 448.5,321.8 L452,322.2 Q457.3,323 457.3,328.5 L457.3,350 Z" fill="#fff" stroke="#111" stroke-width="1.2"/>
<path d="M445,454 L445,331 Q445,326.5 449.5,326 L452,325.6 Q455.3,325.5 455.3,329 L455.3,454 Z" fill="#fff" stroke="#111" stroke-width="1.2"/>
<line x1="449.0" y1="327.0" x2="449.0" y2="454.0" stroke="#111" stroke-width="1.1"/>
<polygon points="449.0,372.0 455.5,368.1 485.5,385.0 485.5,396.0 449.0,380.0" fill="#fff" stroke="#111" stroke-width="1.2" stroke-linejoin="round"/>
<line x1="449.0" y1="373.5" x2="485.5" y2="389.5" stroke="#111" stroke-width="1.0"/>
<line x1="449.0" y1="376.0" x2="485.5" y2="392.0" stroke="#111" stroke-width="1.1"/>
<polygon points="449.0,405.0 455.5,401.1 485.5,418.0 485.5,429.0 449.0,413.0" fill="#fff" stroke="#111" stroke-width="1.2" stroke-linejoin="round"/>
<line x1="449.0" y1="406.5" x2="485.5" y2="422.5" stroke="#111" stroke-width="1.0"/>
<line x1="449.0" y1="409.0" x2="485.5" y2="425.0" stroke="#111" stroke-width="1.1"/>
<polygon points="449.0,437.7 455.5,433.8 485.5,450.7 485.5,461.7 449.0,445.7" fill="#fff" stroke="#111" stroke-width="1.2" stroke-linejoin="round"/>
<line x1="449.0" y1="439.2" x2="485.5" y2="455.2" stroke="#111" stroke-width="1.0"/>
<line x1="449.0" y1="441.7" x2="485.5" y2="457.7" stroke="#111" stroke-width="1.1"/>
<polygon points="449.0,447.6 485.5,464.0 485.5,471.0 449.0,454.0" fill="#fff" stroke="#111" stroke-width="1.2" stroke-linejoin="round"/>
<rect x="485.5" y="348.6" width="8.1" height="130" rx="4" fill="#fff" stroke="#111" stroke-width="1.2"/>
<line x1="488.0" y1="352.0" x2="488.0" y2="478.0" stroke="#111" stroke-width="1.0"/>
<polygon points="605.0,287.0 605.0,418.0 617.1,418.0 617.1,287.0" fill="#fff" stroke="#111" stroke-width="1.3" stroke-linejoin="round"/>
<line x1="612.1" y1="290.0" x2="612.1" y2="417.0" stroke="#111" stroke-width="1.1"/>
<polyline points="605.0,370.5 612.1,374.0 617.1,372.0" fill="none" stroke="#111" stroke-width="1.1" stroke-linejoin="round"/>
<circle cx="615.5" cy="326.4" r="0.8" fill="#111"/>
<circle cx="615.5" cy="334.3" r="0.8" fill="#111"/>
<circle cx="615.5" cy="300.0" r="0.8" fill="#111"/>
<circle cx="615.5" cy="310.0" r="0.8" fill="#111"/>
<rect x="511" y="345.8" width="3.6" height="37.7" fill="#fff" stroke="#111" stroke-width="1.1"/>
<rect x="522" y="339.5" width="3.6" height="38.0" fill="#fff" stroke="#111" stroke-width="1.1"/>
<rect x="533" y="333.2" width="3.6" height="38.4" fill="#fff" stroke="#111" stroke-width="1.1"/>
<rect x="544" y="327.0" width="3.6" height="38.7" fill="#fff" stroke="#111" stroke-width="1.1"/>
<rect x="555" y="320.7" width="3.6" height="39.1" fill="#fff" stroke="#111" stroke-width="1.1"/>
<rect x="565" y="314.9" width="3.6" height="39.4" fill="#fff" stroke="#111" stroke-width="1.1"/>
<rect x="576" y="308.7" width="3.6" height="39.7" fill="#fff" stroke="#111" stroke-width="1.1"/>
<rect x="586" y="302.9" width="3.6" height="40.0" fill="#fff" stroke="#111" stroke-width="1.1"/>
<rect x="597" y="296.6" width="3.6" height="40.4" fill="#fff" stroke="#111" stroke-width="1.1"/>
<path d="M494.6,344.0 Q495.1,342.0 497.6,340.8 L612.0,275.3 Q616.9,273.8 616.9,279.0 L616.9,287.3 L502.0,353.0 Q494.6,353.5 494.6,350.5 Z" fill="#fff" stroke="#111" stroke-width="1.3" stroke-linejoin="round"/>
<path d="M494.6,342.6 Q495.1,345.6 502.0,345.6 L616.9,279.0" fill="none" stroke="#111" stroke-width="1.3"/>
<polygon points="506.3,386.0 609.0,330.5 612.0,333.0 612.0,338.0 506.3,398.6" fill="#fff" stroke="#111" stroke-width="1.2" stroke-linejoin="round"/>
<line x1="506.3" y1="391.1" x2="611.0" y2="334.5" stroke="#111" stroke-width="1.1"/>
<polygon points="506.4,438.3 605.7,383.6 609.3,385.7 609.3,408.6 506.4,466.2" fill="#fff" stroke="#111" stroke-width="1.2" stroke-linejoin="round"/>
<line x1="506.4" y1="441.5" x2="605.0" y2="387.0" stroke="#111" stroke-width="1.1"/>
<polygon points="494.6,346.0 494.6,482.5 502.0,483.5 506.3,482.0 506.3,353.0" fill="#fff" stroke="#111" stroke-width="1.3" stroke-linejoin="round"/>
<line x1="502.0" y1="353.0" x2="502.0" y2="482.0" stroke="#111" stroke-width="1.1"/>
<line x1="497.4" y1="352.0" x2="497.4" y2="481.0" stroke="#888" stroke-width="0.7"/>
<polyline points="494.6,436.0 502.0,437.5 506.3,436.0" fill="none" stroke="#111" stroke-width="1.1" stroke-linejoin="round"/>
<circle cx="504.0" cy="372.7" r="0.8" fill="#111"/>
<circle cx="504.0" cy="390.9" r="0.8" fill="#111"/>
<circle cx="504.0" cy="398.9" r="0.8" fill="#111"/>
<circle cx="504.0" cy="420.0" r="0.8" fill="#111"/>
<circle cx="504.0" cy="445.0" r="0.8" fill="#111"/>
<circle cx="504.0" cy="466.0" r="0.8" fill="#111"/>
<rect x="322.1" y="84.5" width="39.7" height="13" fill="#fff"/>
<rect x="489.1" y="84.5" width="39.7" height="13" fill="#fff"/>
<rect x="232.1" y="274.0" width="39.7" height="13" fill="#fff"/>
<rect x="308.1" y="323.1" width="39.7" height="13" fill="#fff"/>
<rect x="339.1" y="197.5" width="39.7" height="13" fill="#fff"/>
<rect x="475.1" y="244.5" width="39.7" height="13" fill="#fff"/>
<rect x="626.1" y="317.5" width="39.7" height="13" fill="#fff"/>
<rect x="626.1" y="387.5" width="39.7" height="13" fill="#fff"/>
<rect x="553.1" y="370.5" width="39.7" height="13" fill="#fff"/>
<rect x="568.8" y="406.5" width="32.5" height="13" fill="#fff"/>
<rect x="541.6" y="520.1" width="39.7" height="13" fill="#fff"/>
<rect x="447.1" y="492.1" width="39.7" height="13" fill="#fff"/>
<rect x="449.1" y="543.5" width="39.7" height="13" fill="#fff"/>
<rect x="453.3" y="391.5" width="32.5" height="13" fill="#fff"/>
<rect x="453.3" y="425.0" width="32.5" height="13" fill="#fff"/>
<rect x="452.8" y="462.9" width="32.5" height="13" fill="#fff"/>
<rect x="121.1" y="283.5" width="39.7" height="13" fill="#fff"/>
<rect x="32.9" y="449.2" width="39.7" height="13" fill="#fff"/>
<rect x="115.1" y="399.5" width="39.7" height="13" fill="#fff"/>
<rect x="213.8" y="376.2" width="32.5" height="13" fill="#fff"/>
<rect x="290.8" y="421.7" width="32.5" height="13" fill="#fff"/>
<rect x="240.8" y="594.1" width="39.0" height="13" fill="#fff"/>
<rect x="166.4" y="648.8" width="39.7" height="13" fill="#fff"/>
<rect x="166.4" y="674.0" width="39.7" height="13" fill="#fff"/>
<rect x="341.8" y="648.8" width="39.7" height="13" fill="#fff"/>
<text x="359.5" y="20" font-size="12.7" text-anchor="middle" dominant-baseline="central" style="white-space:pre">Inner Size : 75.25&quot;W X  38.50&quot;D</text>
<polygon points="280.0,91.0 288.5,86.0 288.5,96.0" fill="#000"/>
<polygon points="399.5,91.0 391.0,86.0 391.0,96.0" fill="#000"/>
<line x1="286.0" y1="91.0" x2="314.0" y2="91.0" stroke="#111" stroke-width="1.2"/>
<line x1="365.0" y1="91.0" x2="393.5" y2="91.0" stroke="#111" stroke-width="1.2"/>
<polygon points="399.5,91.0 408.0,86.0 408.0,96.0" fill="#000"/>
<polygon points="617.0,91.0 608.5,86.0 608.5,96.0" fill="#000"/>
<line x1="405.5" y1="91.0" x2="476.0" y2="91.0" stroke="#111" stroke-width="1.2"/>
<line x1="535.0" y1="91.0" x2="611.0" y2="91.0" stroke="#111" stroke-width="1.2"/>
<line x1="280.0" y1="91.0" x2="280.0" y2="218.0" stroke="#111" stroke-width="1.2" stroke-dasharray="6,3"/>
<line x1="399.5" y1="91.0" x2="399.5" y2="152.0" stroke="#111" stroke-width="1.2" stroke-dasharray="6,3"/>
<line x1="617.0" y1="91.0" x2="617.0" y2="278.0" stroke="#111" stroke-width="1.2" stroke-dasharray="6,3"/>
<polygon points="252.0,219.0 247.0,227.5 257.0,227.5" fill="#000"/>
<polygon points="252.0,358.6 247.0,350.1 257.0,350.1" fill="#000"/>
<line x1="252.0" y1="225.0" x2="252.0" y2="262.0" stroke="#111" stroke-width="1.2"/>
<line x1="252.0" y1="298.0" x2="252.0" y2="352.6" stroke="#111" stroke-width="1.2"/>
<line x1="252.0" y1="219.0" x2="281.0" y2="219.0" stroke="#111" stroke-width="1.2" stroke-dasharray="6,3"/>
<line x1="252.0" y1="358.6" x2="281.0" y2="358.6" stroke="#111" stroke-width="1.2" stroke-dasharray="6,3"/>
<polygon points="307.0,294.0 302.0,302.5 312.0,302.5" fill="#000"/>
<polygon points="307.0,373.0 302.0,364.5 312.0,364.5" fill="#000"/>
<line x1="307.0" y1="300.0" x2="307.0" y2="367.0" stroke="#111" stroke-width="1.2"/>
<polygon points="378.4,170.4 373.4,178.9 383.4,178.9" fill="#000"/>
<polygon points="378.4,232.6 373.4,224.1 383.4,224.1" fill="#000"/>
<line x1="378.4" y1="176.4" x2="378.4" y2="226.6" stroke="#111" stroke-width="1.2"/>
<polygon points="515.2,233.4 510.2,241.9 520.2,241.9" fill="#000"/>
<polygon points="515.2,279.0 510.2,270.5 520.2,270.5" fill="#000"/>
<line x1="515.2" y1="239.4" x2="515.2" y2="273.0" stroke="#111" stroke-width="1.2"/>
<polygon points="645.0,278.0 640.0,286.5 650.0,286.5" fill="#000"/>
<polygon points="645.0,370.0 640.0,361.5 650.0,361.5" fill="#000"/>
<line x1="645.0" y1="284.0" x2="645.0" y2="310.0" stroke="#111" stroke-width="1.2"/>
<line x1="645.0" y1="337.0" x2="645.0" y2="364.0" stroke="#111" stroke-width="1.2"/>
<line x1="617.0" y1="278.0" x2="645.0" y2="278.0" stroke="#111" stroke-width="1.2" stroke-dasharray="6,3"/>
<line x1="612.0" y1="370.0" x2="645.0" y2="370.0" stroke="#111" stroke-width="1.2" stroke-dasharray="6,3"/>
<polygon points="645.0,370.0 640.0,378.5 650.0,378.5" fill="#000"/>
<polygon points="645.0,417.5 640.0,409.0 650.0,409.0" fill="#000"/>
<line x1="645.0" y1="376.0" x2="645.0" y2="384.0" stroke="#111" stroke-width="1.2"/>
<line x1="645.0" y1="405.0" x2="645.0" y2="411.5" stroke="#111" stroke-width="1.2"/>
<line x1="617.0" y1="417.5" x2="645.0" y2="417.5" stroke="#111" stroke-width="1.2" stroke-dasharray="6,3"/>
<polygon points="594.0,350.7 589.0,359.2 599.0,359.2" fill="#000"/>
<polygon points="594.0,390.7 589.0,382.2 599.0,382.2" fill="#000"/>
<line x1="594.0" y1="356.7" x2="594.0" y2="384.7" stroke="#111" stroke-width="1.2"/>
<polygon points="597.5,415.0 593.5,422.6 601.5,422.6" fill="#000"/>
<polygon points="597.5,429.3 593.5,421.6 601.5,421.6" fill="#000"/>
<line x1="600.0" y1="426.8" x2="612.0" y2="420.4" stroke="#111" stroke-width="1.2" stroke-dasharray="6,3"/>
<polygon points="506.6,526.6 515.1,521.6 515.1,531.6" fill="#000"/>
<polygon points="612.3,526.6 603.8,521.6 603.8,531.6" fill="#000"/>
<line x1="512.6" y1="526.6" x2="538.0" y2="526.6" stroke="#111" stroke-width="1.2"/>
<line x1="586.0" y1="526.6" x2="606.3" y2="526.6" stroke="#111" stroke-width="1.2"/>
<line x1="506.6" y1="483.0" x2="506.6" y2="527.0" stroke="#111" stroke-width="1.2" stroke-dasharray="6,3"/>
<line x1="612.3" y1="420.0" x2="612.3" y2="527.0" stroke="#111" stroke-width="1.2" stroke-dasharray="6,3"/>
<polygon points="447.5,515.7 456.0,510.7 456.0,520.7" fill="#000"/>
<polygon points="485.7,515.7 477.2,510.7 477.2,520.7" fill="#000"/>
<line x1="453.5" y1="515.7" x2="466.0" y2="515.7" stroke="#111" stroke-width="1.2"/>
<line x1="466.0" y1="515.7" x2="479.7" y2="515.7" stroke="#111" stroke-width="1.2"/>
<polygon points="445.0,534.3 453.5,529.3 453.5,539.3" fill="#000"/>
<polygon points="488.6,534.3 480.1,529.3 480.1,539.3" fill="#000"/>
<line x1="451.0" y1="534.3" x2="466.0" y2="534.3" stroke="#111" stroke-width="1.2"/>
<line x1="466.0" y1="534.3" x2="482.6" y2="534.3" stroke="#111" stroke-width="1.2"/>
<line x1="445.0" y1="480.0" x2="445.0" y2="534.0" stroke="#111" stroke-width="1.2" stroke-dasharray="6,3"/>
<line x1="447.7" y1="480.0" x2="447.7" y2="516.0" stroke="#111" stroke-width="1.2" stroke-dasharray="6,3"/>
<line x1="485.7" y1="480.0" x2="485.7" y2="516.0" stroke="#111" stroke-width="1.2" stroke-dasharray="6,3"/>
<line x1="488.6" y1="480.0" x2="488.6" y2="534.0" stroke="#111" stroke-width="1.2" stroke-dasharray="6,3"/>
<polygon points="466.1,384.6 461.1,393.1 471.1,393.1" fill="#000"/>
<polygon points="466.1,415.0 461.1,406.5 471.1,406.5" fill="#000"/>
<polygon points="466.1,416.7 461.1,425.2 471.1,425.2" fill="#000"/>
<polygon points="466.1,447.7 461.1,440.2 471.1,440.2" fill="#000"/>
<line x1="466.1" y1="390.0" x2="466.1" y2="410.0" stroke="#111" stroke-width="1.2"/>
<line x1="466.1" y1="422.0" x2="466.1" y2="441.0" stroke="#111" stroke-width="1.2"/>
<polygon points="466.0,449.0 461.8,456.9 470.2,456.9" fill="#000"/>
<polygon points="466.0,463.7 461.8,455.9 470.2,455.9" fill="#000"/>
<polygon points="76.0,290.0 84.5,285.0 84.5,295.0" fill="#000"/>
<polygon points="199.5,290.0 191.0,285.0 191.0,295.0" fill="#000"/>
<line x1="82.0" y1="290.0" x2="114.0" y2="290.0" stroke="#111" stroke-width="1.2"/>
<line x1="165.0" y1="290.0" x2="193.5" y2="290.0" stroke="#111" stroke-width="1.2"/>
<line x1="76.0" y1="290.0" x2="76.0" y2="417.0" stroke="#111" stroke-width="1.2" stroke-dasharray="6,3"/>
<line x1="199.5" y1="290.0" x2="199.5" y2="350.0" stroke="#111" stroke-width="1.2" stroke-dasharray="6,3"/>
<polygon points="48.6,417.0 43.6,425.5 53.6,425.5" fill="#000"/>
<polygon points="48.6,497.0 43.6,488.5 53.6,488.5" fill="#000"/>
<line x1="48.6" y1="423.0" x2="48.6" y2="440.0" stroke="#111" stroke-width="1.2"/>
<line x1="48.6" y1="472.0" x2="48.6" y2="491.0" stroke="#111" stroke-width="1.2"/>
<line x1="48.6" y1="417.0" x2="77.0" y2="417.0" stroke="#111" stroke-width="1.2" stroke-dasharray="6,3"/>
<line x1="48.6" y1="497.0" x2="77.0" y2="497.0" stroke="#111" stroke-width="1.2" stroke-dasharray="6,3"/>
<polygon points="156.0,380.0 151.0,388.5 161.0,388.5" fill="#000"/>
<polygon points="156.0,428.0 151.0,419.5 161.0,419.5" fill="#000"/>
<line x1="156.0" y1="386.0" x2="156.0" y2="422.0" stroke="#111" stroke-width="1.2"/>
<polygon points="208.6,354.0 203.6,362.5 213.6,362.5" fill="#000"/>
<polygon points="208.6,388.3 203.6,379.8 213.6,379.8" fill="#000"/>
<line x1="208.6" y1="360.0" x2="208.6" y2="382.3" stroke="#111" stroke-width="1.2"/>
<polygon points="285.0,433.8 280.8,441.7 289.2,441.7" fill="#000"/>
<polygon points="285.0,448.6 280.8,440.7 289.2,440.7" fill="#000"/>
<polygon points="285.7,581.7 280.7,590.2 290.7,590.2" fill="#000"/>
<polygon points="285.7,619.4 280.7,610.9 290.7,610.9" fill="#000"/>
<line x1="285.7" y1="587.7" x2="285.7" y2="613.4" stroke="#111" stroke-width="1.2"/>
<polygon points="82.9,655.3 91.4,650.3 91.4,660.3" fill="#000"/>
<polygon points="294.6,655.3 286.1,650.3 286.1,660.3" fill="#000"/>
<line x1="88.9" y1="655.3" x2="162.0" y2="655.3" stroke="#111" stroke-width="1.2"/>
<line x1="210.0" y1="655.3" x2="288.6" y2="655.3" stroke="#111" stroke-width="1.2"/>
<polygon points="75.4,680.5 83.9,675.5 83.9,685.5" fill="#000"/>
<polygon points="306.3,680.5 297.8,675.5 297.8,685.5" fill="#000"/>
<line x1="81.4" y1="680.5" x2="162.0" y2="680.5" stroke="#111" stroke-width="1.2"/>
<line x1="210.0" y1="680.5" x2="300.3" y2="680.5" stroke="#111" stroke-width="1.2"/>
<polygon points="307.0,655.3 315.5,650.3 315.5,660.3" fill="#000"/>
<polygon points="414.3,655.3 405.8,650.3 405.8,660.3" fill="#000"/>
<line x1="313.0" y1="655.3" x2="338.0" y2="655.3" stroke="#111" stroke-width="1.2"/>
<line x1="386.0" y1="655.3" x2="408.3" y2="655.3" stroke="#111" stroke-width="1.2"/>
<line x1="76.5" y1="499.0" x2="76.5" y2="681.0" stroke="#111" stroke-width="1.2" stroke-dasharray="6,3"/>
<line x1="83.0" y1="499.0" x2="83.0" y2="655.0" stroke="#111" stroke-width="1.2" stroke-dasharray="6,3"/>
<line x1="294.6" y1="626.0" x2="294.6" y2="655.0" stroke="#111" stroke-width="1.2" stroke-dasharray="6,3"/>
<line x1="307.0" y1="625.0" x2="307.0" y2="681.0" stroke="#111" stroke-width="1.2" stroke-dasharray="6,3"/>
<line x1="414.3" y1="560.0" x2="414.3" y2="655.0" stroke="#111" stroke-width="1.2" stroke-dasharray="6,3"/>
<text x="342.0" y="91.0" font-size="13" text-anchor="middle" dominant-baseline="central">41.50&quot;</text>
<text x="509.0" y="91.0" font-size="13" text-anchor="middle" dominant-baseline="central">79.50&quot;</text>
<text x="252.0" y="280.5" font-size="13" text-anchor="middle" dominant-baseline="central">42.50&quot;</text>
<text x="328.0" y="329.6" font-size="13" text-anchor="middle" dominant-baseline="central">24.75&quot;</text>
<text x="359.0" y="204.0" font-size="13" text-anchor="middle" dominant-baseline="central">16.50&quot;</text>
<text x="495.0" y="251.0" font-size="13" text-anchor="middle" dominant-baseline="central">13.00&quot;</text>
<text x="646.0" y="324.0" font-size="13" text-anchor="middle" dominant-baseline="central">29.00&quot;</text>
<text x="646.0" y="394.0" font-size="13" text-anchor="middle" dominant-baseline="central">13.75&quot;</text>
<text x="573.0" y="377.0" font-size="13" text-anchor="middle" dominant-baseline="central">14.00&quot;</text>
<text x="585.0" y="413.0" font-size="13" text-anchor="middle" dominant-baseline="central">3.00&quot;</text>
<text x="561.5" y="526.6" font-size="13" text-anchor="middle" dominant-baseline="central">37.25&quot;</text>
<text x="467.0" y="498.6" font-size="13" text-anchor="middle" dominant-baseline="central">13.50&quot;</text>
<text x="469.0" y="550.0" font-size="13" text-anchor="middle" dominant-baseline="central">15.25&quot;</text>
<text x="469.5" y="398.0" font-size="13" text-anchor="middle" dominant-baseline="central">9.50&quot;</text>
<text x="469.5" y="431.5" font-size="13" text-anchor="middle" dominant-baseline="central">9.50&quot;</text>
<text x="469.0" y="469.4" font-size="13" text-anchor="middle" dominant-baseline="central">3.00&quot;</text>
<text x="141.0" y="290.0" font-size="13" text-anchor="middle" dominant-baseline="central">41.50&quot;</text>
<text x="52.8" y="455.7" font-size="13" text-anchor="middle" dominant-baseline="central">24.50&quot;</text>
<text x="135.0" y="406.0" font-size="13" text-anchor="middle" dominant-baseline="central">12.00&quot;</text>
<text x="230.0" y="382.7" font-size="13" text-anchor="middle" dominant-baseline="central">8.75&quot;</text>
<text x="307.0" y="428.2" font-size="13" text-anchor="middle" dominant-baseline="central">2.00&quot;</text>
<text x="260.3" y="600.6" font-size="13" text-anchor="middle" dominant-baseline="central">11.00&quot;</text>
<text x="186.3" y="655.3" font-size="13" text-anchor="middle" dominant-baseline="central">75.25&quot;</text>
<text x="186.3" y="680.5" font-size="13" text-anchor="middle" dominant-baseline="central">79.50&quot;</text>
<text x="361.7" y="655.3" font-size="13" text-anchor="middle" dominant-baseline="central">37.25&quot;</text>
</svg></body></html>
